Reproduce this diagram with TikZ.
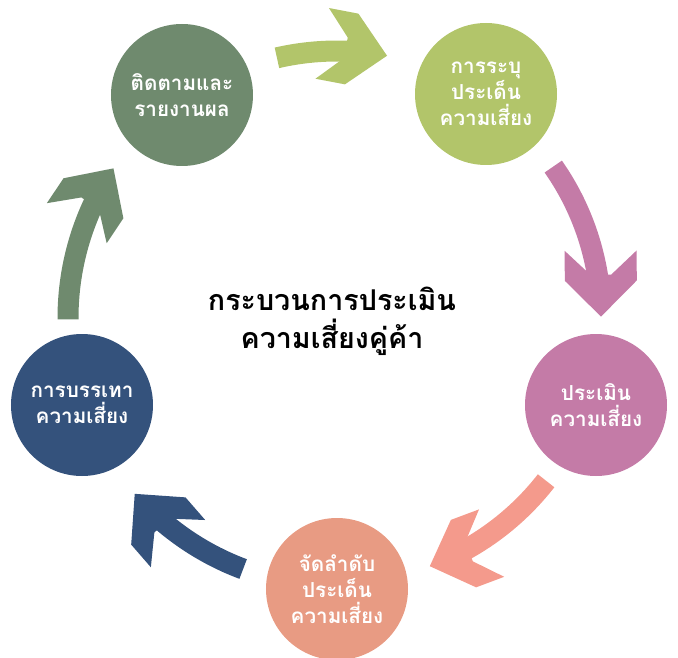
\documentclass[tikz,border=0pt]{standalone}
\usepackage{fontspec}
\newfontfamily\thaifont[Script=Thai]{Loma}
\usepackage{tikz}
\usetikzlibrary{calc}
\usepackage{xcolor}
\definecolor{cMonitor}{RGB}{111, 138, 110}
\definecolor{cIdent}{RGB}{178, 197, 106}
\definecolor{cAssess}{RGB}{196, 123, 167}
\definecolor{cRank}{RGB}{232, 155, 131}
\definecolor{cRankArrow}{RGB}{244, 154, 140}
\definecolor{cMitig}{RGB}{52, 82, 124}

\tikzset{
  stage/.style={circle, minimum size=106.5pt, inner sep=0pt, align=center,
    text=white, font=\thaifont\bfseries\fontsize{15.5}{19.5}\selectfont},
}

\begin{document}
\begin{tikzpicture}[x=0.75pt, y=0.75pt]
  % frame of the picture, origin at the centre of the cycle
  \useasboundingbox (-337,-339) rectangle (341,318);
  \clip (-337,-339) rectangle (341,318);
  \coordinate (O) at (0,0);

  % Curved block arrows along the big circle (tail angle / tip angle / radius / colour)
  \foreach \a/\b/\r/\c in {103/79.2/267/cIdent, 35/0.3/264/cAssess,
      -37.9/-69.5/265/cRankArrow, -110.5/-139/268/cMitig, 180.3/146.2/269/cMonitor} {
    % shaft
    \draw[\c, line width=15.75pt] (\a:\r) arc[start angle=\a, end angle=\b+8, radius=\r];
    % head
    \begin{scope}[shift={(\b:\r)}, rotate=\b-90]
      \fill[\c] (0,0) -- (-36,36) -- (-66,36) -- (-42,10.5) -- (-42,-10.5)
        -- (-66,-36) -- (-36,-36) -- cycle;
    \end{scope}
  }

  % Stages
  \node[stage, fill=cMonitor] (monitor) at (-155,223) {ติดตามและ\\รายงานผล};
  \node[stage, fill=cIdent] (ident) at (149,224) {การระบุ\\ประเด็น\\ความเสี่ยง};
  \node[stage, fill=cAssess] (assess) at (259,-87) {ประเมิน\\ความเสี่ยง};
  \node[stage, fill=cRank] (rank) at (0,-271) {จัดลำดับ\\ประเด็น\\ความเสี่ยง};
  \node[stage, fill=cMitig] (mitig) at (-255,-87) {การบรรเทา\\ความเสี่ยง};

  % Title in the middle
  \node[align=center, font=\thaifont\bfseries\fontsize{21.5}{28.5}\selectfont] (title) at (-5,-3)
    {กระบวนการประเมิน\\ความเสี่ยงคู่ค้า};
\end{tikzpicture}
\end{document}
